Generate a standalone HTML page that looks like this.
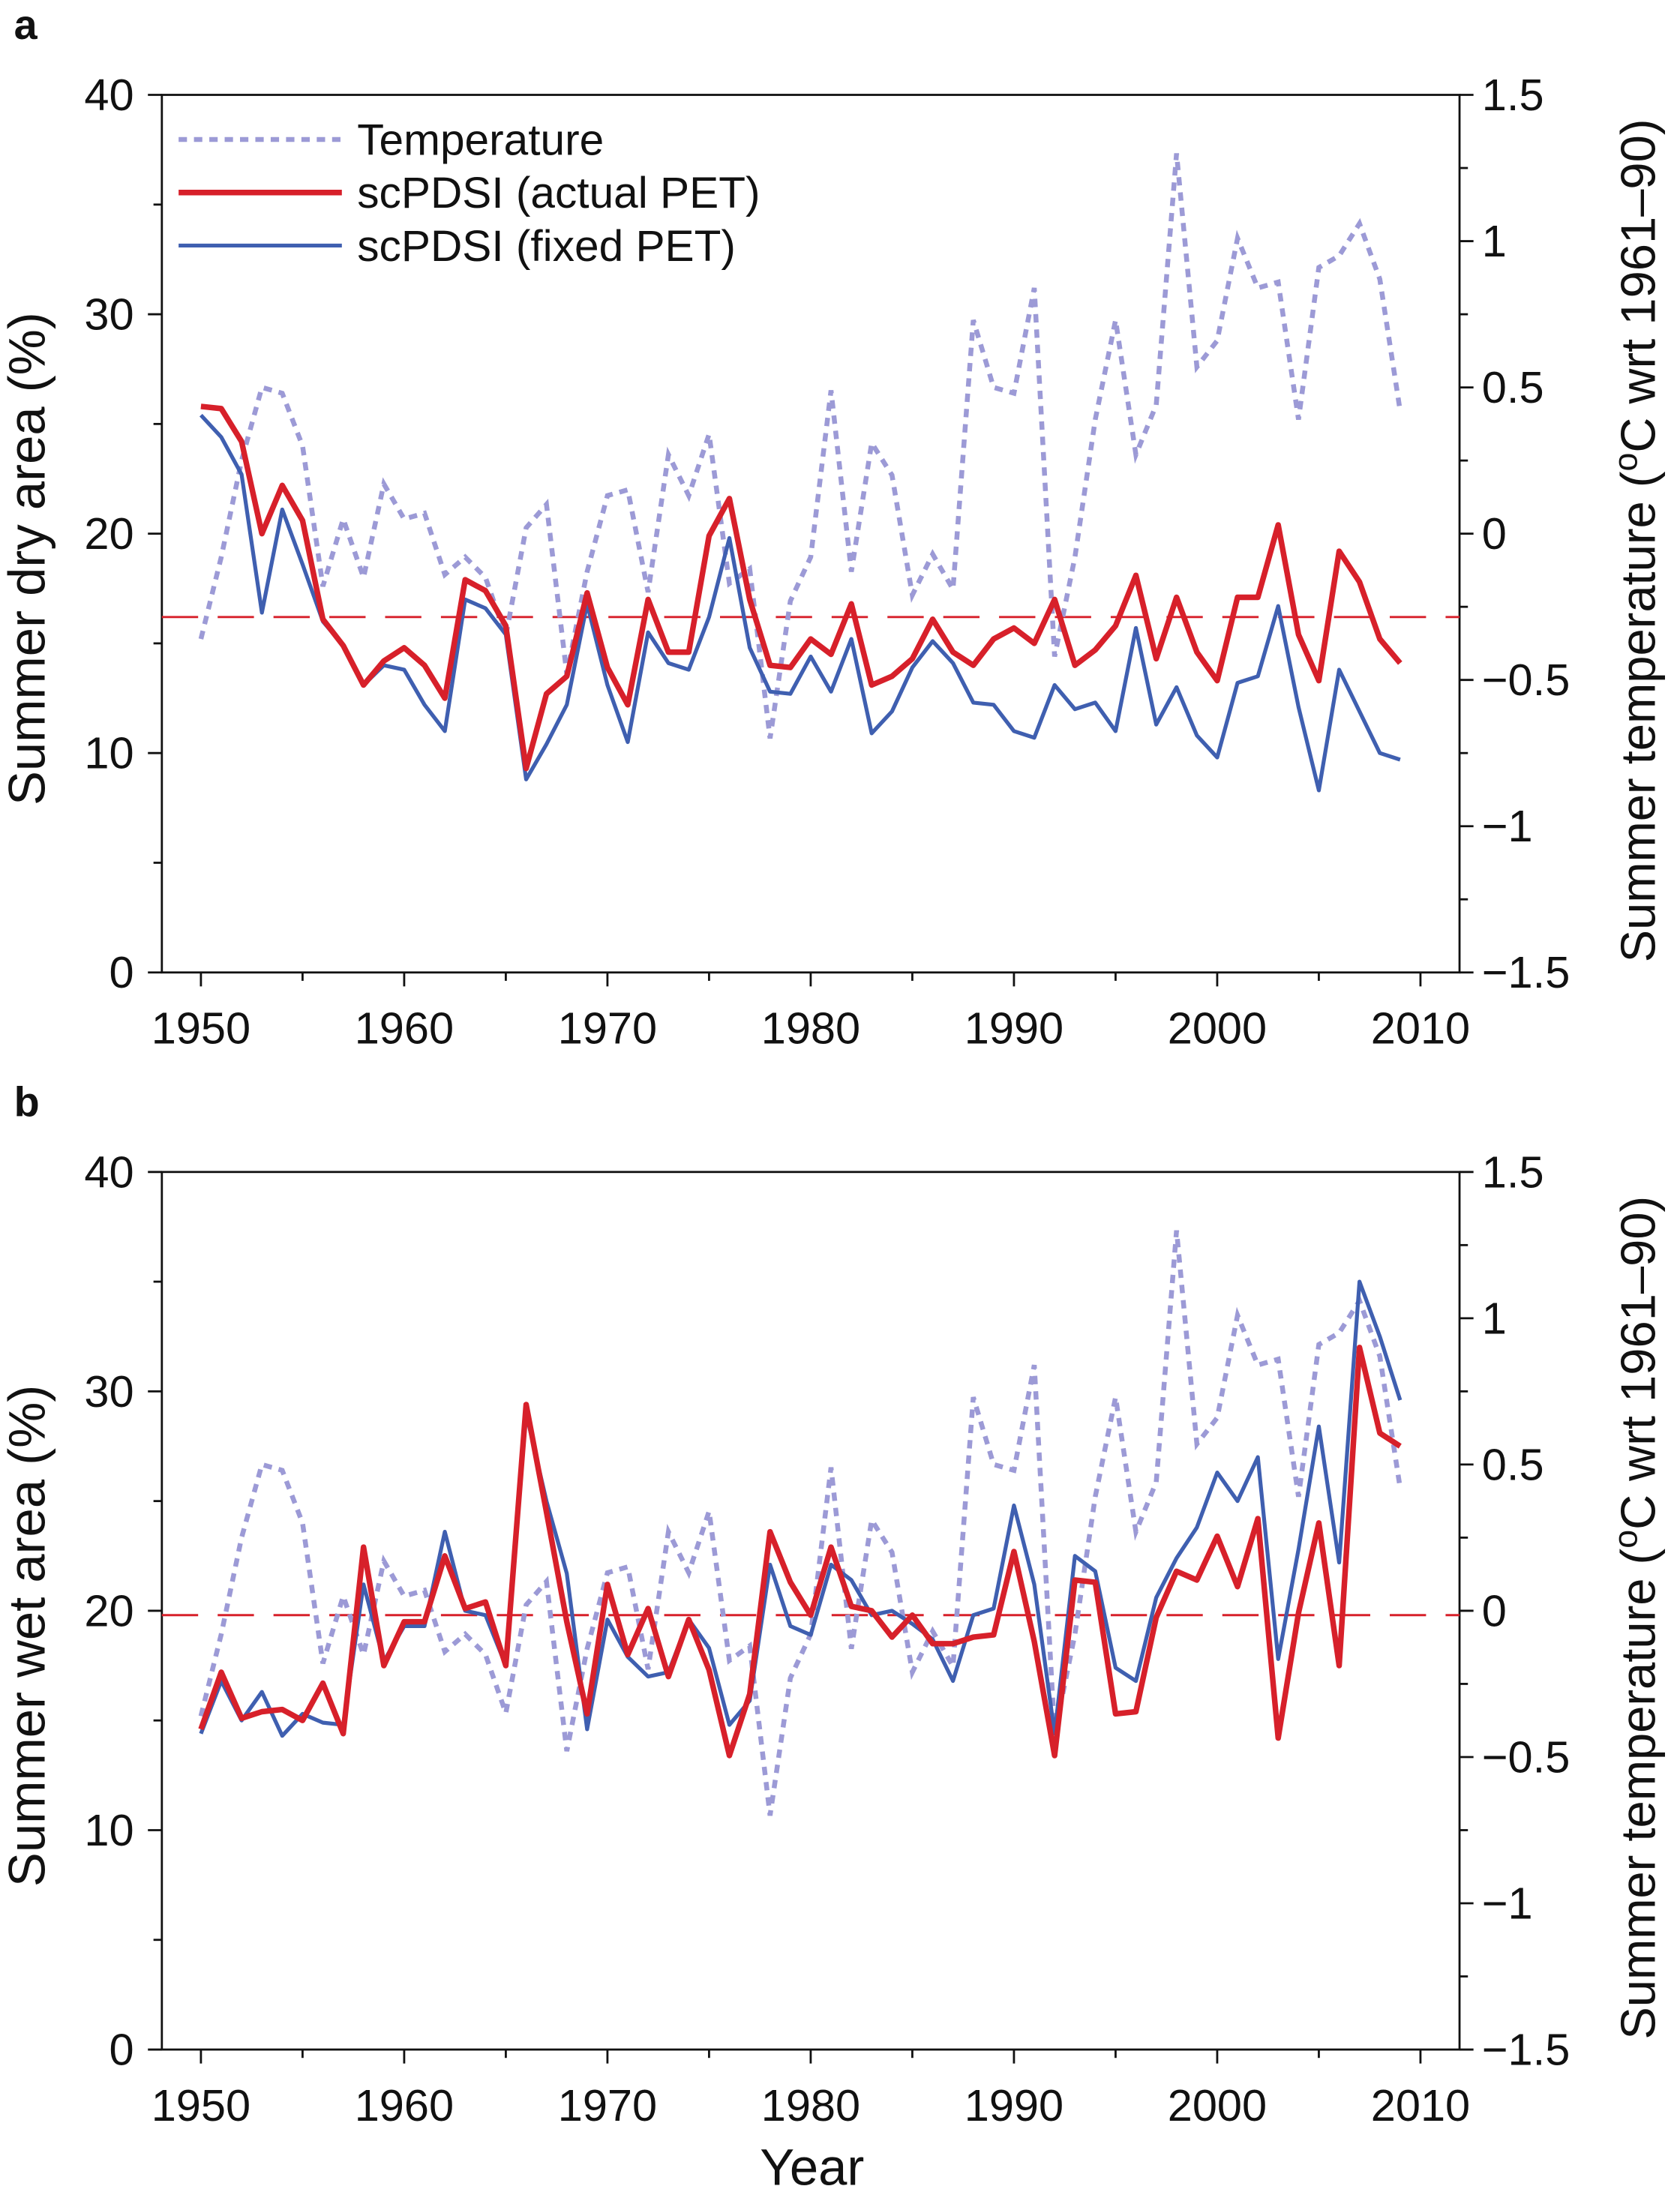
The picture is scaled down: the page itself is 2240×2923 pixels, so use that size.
<!DOCTYPE html>
<html><head><meta charset="utf-8"><style>
html,body{margin:0;padding:0;background:#fff;}
svg{display:block;}
text{font-family:"Liberation Sans",sans-serif;fill:#111;}
</style></head><body>
<svg id="fig" width="2240" height="2923" viewBox="0 0 1204 1571.1" preserveAspectRatio="none" xmlns="http://www.w3.org/2000/svg"></svg>
<script>
const years = [];
for (let y = 1950; y <= 2009; y++) years.push(y);
const tempAnom = [-0.36,-0.08,0.25,0.50,0.48,0.30,-0.18,0.05,-0.15,0.17,0.05,0.07,-0.14,-0.08,-0.15,-0.35,0.02,0.10,-0.48,-0.13,0.13,0.15,-0.20,0.27,0.13,0.34,-0.17,-0.12,-0.70,-0.23,-0.08,0.49,-0.13,0.31,0.20,-0.21,-0.07,-0.19,0.73,0.50,0.48,0.84,-0.42,-0.08,0.39,0.73,0.27,0.44,1.30,0.57,0.66,1.01,0.84,0.86,0.39,0.91,0.95,1.06,0.87,0.42];
const dryActual = [25.8,25.7,24.2,20.0,22.2,20.6,16.1,14.9,13.1,14.2,14.8,14.0,12.5,17.9,17.4,15.8,9.3,12.7,13.5,17.3,13.9,12.2,17.0,14.6,14.6,19.9,21.6,17.0,14.0,13.9,15.2,14.5,16.8,13.1,13.5,14.3,16.1,14.6,14.0,15.2,15.7,15.0,17.0,14.0,14.7,15.8,18.1,14.3,17.1,14.6,13.3,17.1,17.1,20.4,15.4,13.3,19.2,17.8,15.2,14.1];
const dryFixed = [25.4,24.4,22.7,16.4,21.1,18.6,16.0,14.9,13.1,14.0,13.8,12.2,11.0,17.0,16.6,15.4,8.8,10.4,12.2,16.8,13.1,10.5,15.5,14.1,13.8,16.2,19.8,14.8,12.8,12.7,14.4,12.8,15.2,10.9,11.9,13.9,15.1,14.1,12.3,12.2,11.0,10.7,13.1,12.0,12.3,11.0,15.7,11.3,13.0,10.8,9.8,13.2,13.5,16.7,12.1,8.3,13.8,11.9,10.0,9.7];
const wetActual = [14.6,17.2,15.1,15.4,15.5,15.0,16.7,14.4,22.9,17.5,19.5,19.5,22.5,20.1,20.4,17.5,29.4,24.5,19.5,15.3,21.2,18.0,20.1,17.0,19.6,17.3,13.4,16.2,23.6,21.3,19.8,22.9,20.2,20.0,18.8,19.8,18.5,18.5,18.8,18.9,22.7,18.6,13.4,21.4,21.3,15.3,15.4,19.7,21.8,21.4,23.4,21.1,24.2,14.2,19.9,24.0,17.5,32.0,28.1,27.5];
const wetFixed = [14.4,16.8,15.0,16.3,14.3,15.3,14.9,14.8,21.2,17.7,19.3,19.3,23.6,20.0,19.8,17.5,29.0,25.0,21.7,14.6,19.6,17.9,17.0,17.2,19.6,18.3,14.8,15.9,22.1,19.3,18.9,22.1,21.4,19.8,20.0,19.4,18.7,16.8,19.8,20.1,24.8,21.2,14.4,22.5,21.8,17.4,16.8,20.6,22.4,23.8,26.3,25.0,27.0,17.8,22.8,28.4,22.2,35.0,32.5,29.6];
const refLines = [16.2, 19.8];
const xTicks = [1950,1960,1970,1980,1990,2000,2010];
const yTicks = [0,10,20,30,40];
const tTicks = [-1.5,-1,-0.5,0,0.5,1,1.5];
const tTickLabels = ["\u22121.5","\u22121","\u22120.5","0","0.5","1","1.5"];

const NS="http://www.w3.org/2000/svg";
const svg=document.getElementById('fig');
function el(tag,attrs,parent){const e=document.createElementNS(NS,tag);for(const k in attrs)e.setAttribute(k,attrs[k]);(parent||svg).appendChild(e);return e;}
const L=116,R=1046;
const xS=y=>144+(y-1950)*(1018-144)/60;
const RED="#d7202a",BLUE="#3f5fb0",TMP="#9c9ad6";

function panel(top,bottom,letter,ytitle,actual,fixed,ref,withLegend,key){
  const g=el('g',{});
  
  
  const yS=v=>bottom-(v/40)*(bottom-top);
  const tS=v=>(top+bottom)/2-(v/1.5)*(bottom-top)/2;
  const lt=el('text',{x:10,y:top-40,'font-size':30,'font-weight':'bold'},g);lt.textContent=letter;
  
  const box=el('rect',{x:L,y:top,width:R-L,height:bottom-top,fill:'none',stroke:'#111','stroke-width':1.5},g);
  
  for(let v=0;v<=40;v+=5){const yy=yS(v);const len=v%10===0?10:6;el('line',{x1:L-len,x2:L,y1:yy,y2:yy,stroke:'#111','stroke-width':1.5},g);}
  yTicks.forEach(v=>{const t=el('text',{x:96,y:yS(v)+11,'font-size':32,'text-anchor':'end'},g);t.textContent=v;
    });
  for(let v=-1.5;v<=1.5001;v+=0.25){const yy=tS(v);const len=Math.abs(v*2-Math.round(v*2))<1e-6?10:6;el('line',{x1:R,x2:R+len,y1:yy,y2:yy,stroke:'#111','stroke-width':1.5},g);}
  tTicks.forEach((v,i)=>{const t=el('text',{x:1062,y:tS(v)+11,'font-size':32},g);t.textContent=tTickLabels[i];
    });
  for(let yr=1950;yr<=2010;yr+=5){const xx=xS(yr);const len=yr%10===0?10:6;el('line',{x1:xx,x2:xx,y1:bottom,y2:bottom+len,stroke:'#111','stroke-width':1.5},g);}
  xTicks.forEach(v=>{const t=el('text',{x:xS(v),y:bottom+51,'font-size':32,'text-anchor':'middle'},g);t.textContent=v;
    });
  const yt=el('text',{transform:`translate(32,${(top+bottom)/2+18}) rotate(-90)`,'font-size':37,'text-anchor':'middle'},g);yt.textContent=ytitle;
  
  const rt=el('text',{transform:`translate(1186,${(top+bottom)/2+5}) rotate(-90)`,'font-size':35,'text-anchor':'middle'},g);
  rt.innerHTML='Summer temperature (<tspan dy="-13" font-size="24">o</tspan><tspan dy="13">C wrt 1961\u201390)</tspan>';
  
  const rl=el('line',{x1:L,x2:R,y1:yS(ref),y2:yS(ref),stroke:RED,'stroke-width':1.6,'stroke-dasharray':'26,14'},g);
  
  const tp=el('polyline',{points:years.map((y,i)=>xS(y)+','+tS(tempAnom[i])).join(' '),fill:'none',stroke:TMP,'stroke-width':3.5,'stroke-dasharray':'6,5'},g);
  
  const fp=el('polyline',{points:years.map((y,i)=>xS(y)+','+yS(fixed[i])).join(' '),fill:'none',stroke:BLUE,'stroke-width':2.8,'stroke-linejoin':'round'},g);
  
  const ap=el('polyline',{points:years.map((y,i)=>xS(y)+','+yS(actual[i])).join(' '),fill:'none',stroke:RED,'stroke-width':4,'stroke-linejoin':'round'},g);
  
  if(withLegend){
    const items=[["Temperature",TMP,3.5,'6,5'],["scPDSI (actual PET)",RED,4,''],["scPDSI (fixed PET)",BLUE,2.8,'']];
    items.forEach((it,i)=>{const yy=100+i*38;
      const ln=el('line',{x1:128,x2:245,y1:yy,y2:yy,stroke:it[1],'stroke-width':it[2],'stroke-dasharray':it[3]||'none'},g);
      
      const t=el('text',{x:256,y:yy+11,'font-size':31.5},g);t.textContent=it[0];
      });
  }
}
panel(68,697,'a','Summer dry area (%)',dryActual,dryFixed,refLines[0],true,'a');
panel(840,1469,'b','Summer wet area (%)',wetActual,wetFixed,refLines[1],false,'b');
const yr=el('text',{x:582,y:1566,'font-size':37,'text-anchor':'middle'});yr.textContent='Year';


</script>
</body></html>
